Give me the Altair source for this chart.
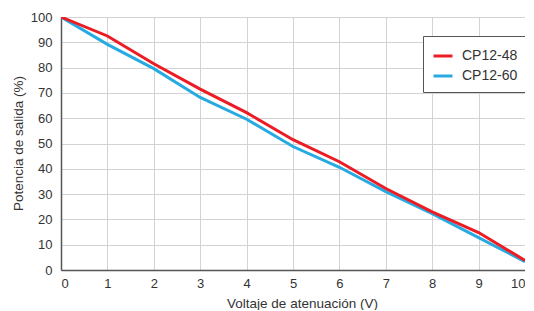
import altair as alt
import pandas as pd

voltage = [0, 1, 2, 3, 4, 5, 6, 7, 8, 9, 10]
cp12_48 = [100, 92.5, 81.5, 71.5, 62.2, 51.5, 42.8, 32.2, 23.0, 14.8, 3.8]
cp12_60 = [100, 89.2, 79.6, 68.2, 59.6, 48.8, 40.6, 31.0, 22.3, 12.8, 3.3]
series = ["CP12-48", "CP12-60"]
colors = ["#ec1c24", "#27aae1"]

df = pd.DataFrame(
    {"Voltaje": voltage * 2,
     "Potencia": cp12_48 + cp12_60,
     "Serie": [series[0]] * len(voltage) + [series[1]] * len(voltage)}
)

FONT = "Liberation Sans"

x = alt.X("Voltaje:Q", scale=alt.Scale(domain=[0, 10], nice=False),
          axis=alt.Axis(values=voltage, title="Voltaje de atenuación (V)",
                        tickSize=0, labelPadding=7, titleX=241, titleY=26,
                        titleBaseline="top"))
y = alt.Y("Potencia:Q", scale=alt.Scale(domain=[0, 100], nice=False),
          axis=alt.Axis(values=list(range(0, 101, 10)), title="Potencia de salida (%)",
                        tickSize=0, labelPadding=9, titleX=-43, titleY=126,
                        titleAngle=-90, titleBaseline="middle", titleAlign="center"))
color = alt.Color("Serie:N", scale=alt.Scale(domain=series, range=colors),
                  legend=alt.Legend(title=None, orient="none", legendX=362, legendY=19,
                                    symbolType="stroke", symbolStrokeWidth=3,
                                    symbolSize=360, labelFontSize=14, labelFont=FONT,
                                    labelColor="#333", labelOffset=8,
                                    strokeColor="#555", padding=9, rowPadding=2,
                                    fillColor="white", labelLimit=200,
                                    offset=0))

base = alt.Chart(df).mark_line(strokeWidth=3, clip=True).encode(x=x, y=y, color=color)
blue = base.transform_filter(alt.datum.Serie == series[1])
red = base.transform_filter(alt.datum.Serie == series[0])

chart = alt.layer(blue, red).properties(
    width=464, height=253,
    autosize=alt.AutoSizeParams(type="none"),
    padding={"left": 53, "top": 9, "right": 0, "bottom": 40},
).configure_view(
    stroke="#666", strokeWidth=1
).configure_axis(
    gridColor="#d3d3d3", gridWidth=1, domainColor="#555", domainWidth=1.5,
    labelFont=FONT, labelFontSize=13, labelColor="#333",
    titleFont=FONT, titleFontSize=13.5, titleColor="#333", titleFontWeight="normal",
)

chart.save("out.html", embed_options={"renderer": "svg", "actions": False})
